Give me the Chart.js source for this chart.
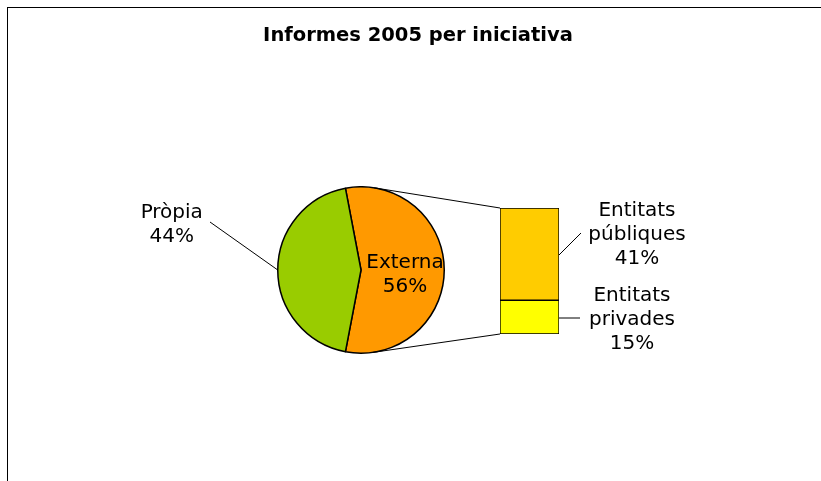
<!DOCTYPE html>
<html>
<head>
<meta charset="utf-8">
<script src="https://cdn.jsdelivr.net/npm/chart.js@4/dist/chart.umd.min.js"></script>
<style>
  html, body { margin: 0; padding: 0; background: #fff; }
  #wrap { position: relative; width: 821px; height: 481px; overflow: hidden; background: #fff; }
  #frame { position: absolute; left: 7px; top: 7px; width: 830px; height: 490px;
           border-left: 1px solid #000; border-top: 1px solid #000; }
  #pie { position: absolute; left: 277px; top: 186px; }
  #bar { position: absolute; left: 0; top: 0; pointer-events: none; }
</style>
</head>
<body>
<div id="wrap">
  <div id="frame"></div>
  <canvas id="pie" width="168" height="168"></canvas>
  <canvas id="bar" width="821" height="481"></canvas>
</div>
<script>
const chartTitle = 'Informes 2005 per iniciativa';
const mainLabels = ['Externa', 'Pròpia'];
const mainValues = [56, 44];
const mainColors = ['#FF9900', '#99CC00'];
const splitLabels = ['Entitats privades', 'Entitats públiques'];
const splitValues = [15, 41];
const splitColors = ['#FFFF00', '#FFCC00'];

const labelFont = '20px "DejaVu Sans", Verdana, sans-serif';
const titleFont = 'bold 19.5px "DejaVu Sans", Verdana, sans-serif';

const total = mainValues.reduce((a, b) => a + b, 0);
const pct = v => Math.round(v / total * 100) + '%';

// first slice (Externa) centred on the right-hand side
const rotation = 90 - (mainValues[0] / total) * 180;

const pieChart = new Chart(document.getElementById('pie').getContext('2d'), {
  type: 'pie',
  data: {
    labels: mainLabels,
    datasets: [{
      data: mainValues,
      backgroundColor: mainColors,
      borderColor: '#000',
      borderWidth: 1.5
    }]
  },
  options: {
    responsive: false,
    animation: false,
    rotation: rotation,
    plugins: { legend: { display: false }, tooltip: { enabled: false } }
  }
});

function drawLines(ctx, lines, x, y, lh) {
  const y0 = y - (lines.length - 1) * lh / 2;
  lines.forEach((t, i) => ctx.fillText(t, x, y0 + i * lh));
}

const overlay = {
  id: 'overlay',
  afterDraw(chart) {
    const ctx = chart.ctx;
    const pieCanvas = document.getElementById('pie');
    const arcs = pieChart.getDatasetMeta(0).data;
    const cx = pieCanvas.offsetLeft + arcs[0].x;
    const cy = pieCanvas.offsetTop + arcs[0].y;
    const r = arcs[0].outerRadius;
    const bars = chart.getDatasetMeta(1).data[0];
    const barsLow = chart.getDatasetMeta(0).data[0];
    const bl = bars.x - bars.width / 2, br = bars.x + bars.width / 2;
    const btop = bars.y, bbot = barsLow.base;

    ctx.save();
    // title
    ctx.fillStyle = '#000';
    ctx.font = titleFont;
    ctx.textAlign = 'center';
    ctx.textBaseline = 'middle';
    ctx.fillText(chartTitle, 418, 36);

    // connector lines: tangents from bar corners to the pie
    ctx.strokeStyle = '#000';
    ctx.lineWidth = 1;
    [[bl, btop, -1], [bl, bbot, 1]].forEach(([px, py, s]) => {
      const dx = px - cx, dy = py - cy;
      const d = Math.hypot(dx, dy);
      const a = Math.atan2(dy, dx) + s * Math.acos(r / d);
      ctx.beginPath();
      ctx.moveTo(cx + r * Math.cos(a), cy + r * Math.sin(a));
      ctx.lineTo(px, py);
      ctx.stroke();
    });

    // pie labels
    ctx.font = labelFont;
    ctx.fillStyle = '#000';
    const lh = 24;
    drawLines(ctx, [mainLabels[1], pct(mainValues[1])], cx - r - 106, 225, lh);
    ctx.beginPath();
    ctx.moveTo(210, 222);
    ctx.lineTo(cx - r, cy);
    ctx.stroke();
    drawLines(ctx, [mainLabels[0], pct(mainValues[0])], cx + 44, 275, lh);

    // bar labels
    const pubLines = splitLabels[1].split(' ').concat(pct(splitValues[1]));
    const priLines = splitLabels[0].split(' ').concat(pct(splitValues[0]));
    drawLines(ctx, pubLines, 637, 235, lh);
    drawLines(ctx, priLines, 632, 320, lh);
    ctx.beginPath();
    ctx.moveTo(br, 255);
    ctx.lineTo(581, 233);
    ctx.moveTo(br, 318);
    ctx.lineTo(580, 318);
    ctx.stroke();
    ctx.restore();
  }
};

new Chart(document.getElementById('bar').getContext('2d'), {
  type: 'bar',
  data: {
    labels: ['Externa'],
    datasets: splitLabels.map((l, i) => ({
      label: l,
      data: [splitValues[i]],
      backgroundColor: splitColors[i],
      borderColor: '#000',
      borderWidth: 1,
      borderSkipped: false,
      barPercentage: 1,
      categoryPercentage: 1
    }))
  },
  options: {
    responsive: false,
    animation: false,
    layout: { padding: { left: 500, right: 262, top: 208, bottom: 147 } },
    scales: {
      x: { stacked: true, display: false },
      y: { stacked: true, display: false, min: 0, max: mainValues[0] }
    },
    plugins: { legend: { display: false }, tooltip: { enabled: false } }
  },
  plugins: [overlay]
});
</script>
</body>
</html>
